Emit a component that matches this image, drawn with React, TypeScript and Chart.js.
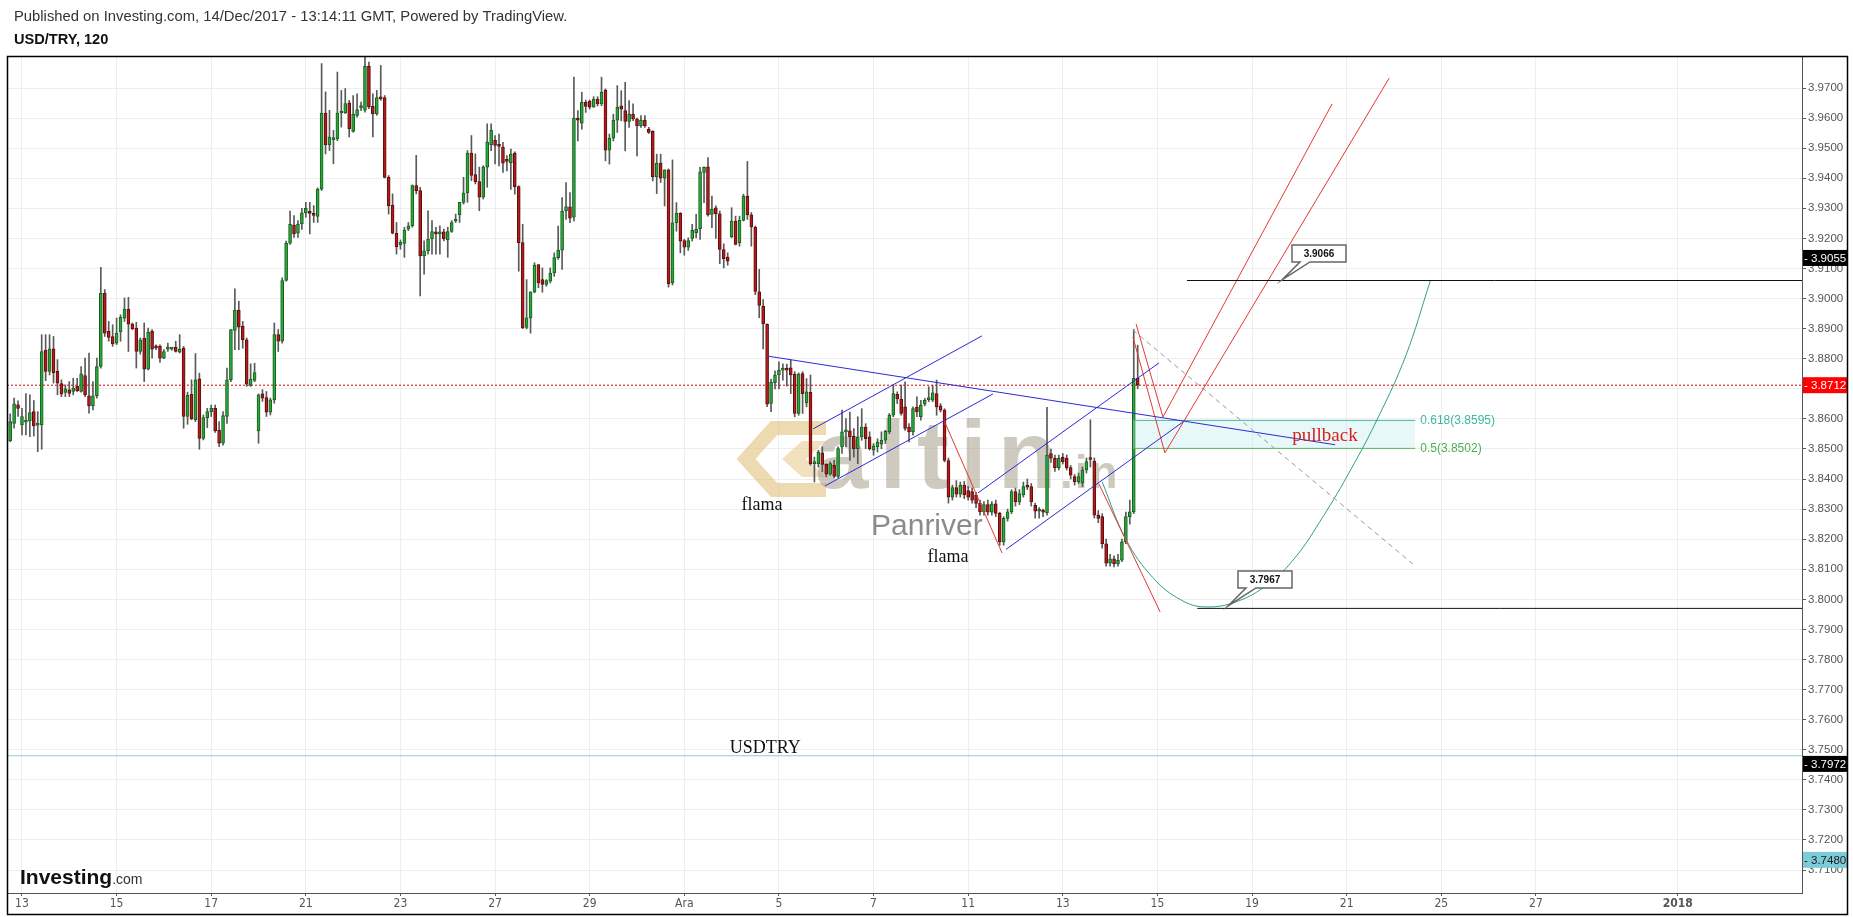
import React, { useEffect, useRef } from 'react';
import { Chart, registerables } from 'chart.js';

Chart.register(...registerables);

// ---------- data (2-hour candles, x = bar index, 0 = first bar of 13 Nov) ----------
const firstCandleX = -3;

const openP = [
  3.8527,3.8585,3.8647,3.8580,3.8589,3.8593,3.8624,3.8579,3.8580,3.8828,3.8758,3.8833,
  3.8758,3.8717,3.8688,3.8697,3.8691,3.8708,3.8691,3.8744,3.8677,3.8643,3.8677,3.8774,
  3.9017,3.8891,3.8874,3.8852,3.8889,3.8935,3.8965,3.8915,3.8902,3.8824,3.8869,3.8765,
  3.8891,3.8838,3.8841,3.8802,3.8832,3.8832,3.8838,3.8822,3.8835,3.8608,3.8682,3.8597,
  3.8733,3.8535,3.8604,3.8624,3.8635,3.8563,3.8519,3.8608,3.8730,3.8894,3.8961,3.8908,
  3.8863,3.8711,3.8728,3.8560,3.8683,3.8671,3.8622,3.8663,3.8880,3.8858,3.9060,3.9184,
  3.9244,3.9217,3.9248,3.9285,3.9285,3.9283,3.9273,3.9364,3.9617,3.9511,3.9528,3.9531,
  3.9617,3.9617,3.9651,3.9556,3.9609,3.9635,3.9626,3.9772,3.9639,3.9614,3.9668,3.9668,
  3.9403,3.9311,3.9217,3.9178,3.9183,3.9231,3.9242,3.9376,3.9359,3.9142,3.9159,3.9198,
  3.9222,3.9215,3.9222,3.9195,3.9223,3.9257,3.9279,3.9320,3.9351,3.9484,3.9412,3.9389,
  3.9337,3.9437,3.9512,3.9526,3.9511,3.9504,3.9460,3.9452,3.9484,3.9372,3.9186,3.8904,
  3.8936,3.9022,3.9113,3.9063,3.9047,3.9058,3.9085,3.9136,3.9161,3.9291,3.9305,3.9271,
  3.9600,3.9583,3.9652,3.9656,3.9636,3.9663,3.9647,3.9693,3.9493,3.9533,3.9593,3.9641,
  3.9625,3.9589,3.9613,3.9597,3.9574,3.9593,3.9563,3.9556,3.9404,3.9450,3.9400,3.9428,
  3.9052,3.9252,3.9283,3.9193,3.9171,3.9200,3.9219,3.9232,3.9419,3.9438,3.9280,3.9302,
  3.9282,3.9163,3.9138,3.9206,3.9258,3.9186,3.9260,3.9341,3.9278,3.9238,3.9022,3.8974,
  3.8914,3.8651,3.8720,3.8746,3.8762,3.8768,3.8770,3.8749,3.8618,3.8751,3.8653,3.8688,
  3.8451,3.8451,3.8487,3.8449,3.8416,3.8446,3.8409,3.8507,3.8557,3.8560,3.8542,3.8501,
  3.8540,3.8573,3.8540,3.8496,3.8507,3.8516,3.8529,3.8557,3.8612,3.8682,3.8666,3.8640,
  3.8573,3.8557,3.8638,3.8607,3.8649,3.8664,3.8662,3.8684,3.8643,3.8629,3.8461,3.8340,
  3.8372,3.8350,3.8380,3.8362,3.8358,3.8347,3.8319,3.8291,3.8315,3.8290,3.8318,3.8286,
  3.8191,3.8269,3.8291,3.8358,3.8324,3.8347,3.8377,3.8375,3.8313,3.8293,3.8296,3.8288,
  3.8485,3.8469,3.8438,3.8472,3.8469,3.8438,3.8408,3.8391,3.8386,3.8430,3.8470,3.8460,
  3.8280,3.8275,3.8185,3.8120,3.8135,3.8118,3.8130,3.8191,3.8275,3.8291,3.8735,
];

const highP = [
  3.8617,3.8669,3.8660,3.8635,3.8684,3.8680,3.8661,3.8624,3.8880,3.8880,3.8880,3.8874,
  3.8797,3.8730,3.8713,3.8724,3.8735,3.8735,3.8774,3.8802,3.8819,3.8724,3.8802,3.9104,
  3.9030,3.8924,3.8913,3.8935,3.8946,3.9002,3.9004,3.8919,3.8921,3.8869,3.8919,3.8902,
  3.8897,3.8846,3.8846,3.8830,3.8852,3.8835,3.8858,3.8880,3.8841,3.8689,3.8730,3.8817,
  3.8752,3.8613,3.8635,3.8646,3.8646,3.8591,3.8624,3.8769,3.8897,3.9032,3.8991,3.8924,
  3.8869,3.8783,3.8785,3.8683,3.8697,3.8691,3.8669,3.8919,3.8897,3.9069,3.9191,3.9291,
  3.9276,3.9259,3.9300,3.9320,3.9320,3.9309,3.9368,3.9781,3.9687,3.9626,3.9559,3.9753,
  3.9692,3.9698,3.9659,3.9675,3.9681,3.9653,3.9803,3.9786,3.9681,3.9692,3.9775,3.9675,
  3.9409,3.9348,3.9253,3.9195,3.9237,3.9253,3.9378,3.9476,3.9370,3.9192,3.9292,3.9259,
  3.9237,3.9242,3.9231,3.9237,3.9259,3.9281,3.9320,3.9403,3.9492,3.9542,3.9481,3.9437,
  3.9442,3.9581,3.9581,3.9542,3.9547,3.9519,3.9475,3.9497,3.9488,3.9375,3.9247,3.9063,
  3.9022,3.9119,3.9113,3.9102,3.9063,3.9102,3.9152,3.9241,3.9336,3.9386,3.9352,3.9736,
  3.9625,3.9686,3.9660,3.9660,3.9671,3.9671,3.9736,3.9697,3.9547,3.9613,3.9708,3.9691,
  3.9719,3.9658,3.9647,3.9600,3.9608,3.9608,3.9569,3.9558,3.9480,3.9480,3.9428,3.9431,
  3.9461,3.9319,3.9286,3.9197,3.9202,3.9247,3.9280,3.9436,3.9438,3.9469,3.9341,3.9308,
  3.9291,3.9182,3.9152,3.9302,3.9274,3.9274,3.9347,3.9456,3.9286,3.9241,3.9097,3.8997,
  3.8916,3.8732,3.8760,3.8790,3.8783,3.8782,3.8796,3.8757,3.8753,3.8757,3.8734,3.8746,
  3.8473,3.8496,3.8507,3.8451,3.8457,3.8462,3.8507,3.8629,3.8601,3.8623,3.8568,3.8607,
  3.8634,3.8584,3.8557,3.8518,3.8534,3.8557,3.8562,3.8618,3.8712,3.8690,3.8712,3.8723,
  3.8584,3.8640,3.8673,3.8662,3.8668,3.8707,3.8712,3.8729,3.8651,3.8634,3.8470,3.8380,
  3.8395,3.8390,3.8392,3.8375,3.8370,3.8356,3.8330,3.8325,3.8330,3.8325,3.8330,3.8290,
  3.8275,3.8300,3.8365,3.8370,3.8365,3.8390,3.8400,3.8385,3.8320,3.8305,3.8300,3.8638,
  3.8500,3.8480,3.8480,3.8485,3.8480,3.8445,3.8415,3.8420,3.8440,3.8470,3.8597,3.8470,
  3.8295,3.8285,3.8200,3.8150,3.8145,3.8150,3.8200,3.8290,3.8330,3.8897,3.8845,
];

const lowP = [
  3.8524,3.8569,3.8608,3.8547,3.8547,3.8541,3.8543,3.8491,3.8499,3.8727,3.8746,3.8719,
  3.8680,3.8674,3.8674,3.8674,3.8680,3.8691,3.8689,3.8674,3.8619,3.8630,3.8669,3.8769,
  3.8874,3.8858,3.8841,3.8847,3.8858,3.8924,3.8824,3.8897,3.8769,3.8815,3.8724,3.8763,
  3.8802,3.8830,3.8788,3.8800,3.8824,3.8828,3.8822,3.8819,3.8569,3.8582,3.8597,3.8591,
  3.8499,3.8530,3.8571,3.8608,3.8555,3.8508,3.8513,3.8585,3.8724,3.8830,3.8830,3.8835,
  3.8708,3.8708,3.8724,3.8519,3.8658,3.8608,3.8613,3.8652,3.8824,3.8852,3.9058,3.9180,
  3.9203,3.9203,3.9230,3.9270,3.9215,3.9253,3.9253,3.9359,3.9481,3.9492,3.9448,3.9525,
  3.9570,3.9615,3.9537,3.9553,3.9603,3.9625,3.9620,3.9631,3.9537,3.9609,3.9659,3.9401,
  3.9281,3.9215,3.9148,3.9164,3.9137,3.9226,3.9237,3.9348,3.9009,3.9081,3.9148,3.9148,
  3.9148,3.9148,3.9192,3.9137,3.9220,3.9253,3.9253,3.9314,3.9320,3.9392,3.9381,3.9292,
  3.9331,3.9370,3.9492,3.9448,3.9441,3.9419,3.9424,3.9363,3.9347,3.9091,3.8900,3.8899,
  3.8885,3.9019,3.9036,3.9021,3.9041,3.9052,3.9074,3.9130,3.9097,3.9263,3.9252,3.9258,
  3.9524,3.9563,3.9619,3.9630,3.9636,3.9640,3.9641,3.9458,3.9447,3.9524,3.9552,3.9591,
  3.9491,3.9569,3.9591,3.9474,3.9569,3.9569,3.9549,3.9391,3.9349,3.9386,3.9308,3.9038,
  3.9045,3.9224,3.9152,3.9144,3.9160,3.9191,3.9202,3.9197,3.9319,3.9274,3.9236,3.9200,
  3.9116,3.9102,3.9111,3.9202,3.9178,3.9174,3.9258,3.9263,3.9174,3.9013,3.8936,3.8833,
  3.8641,3.8624,3.8700,3.8700,3.8729,3.8709,3.8684,3.8607,3.8612,3.8618,3.8640,3.8446,
  3.8390,3.8440,3.8424,3.8407,3.8412,3.8404,3.8404,3.8485,3.8507,3.8462,3.8473,3.8451,
  3.8529,3.8501,3.8496,3.8479,3.8490,3.8501,3.8518,3.8551,3.8607,3.8651,3.8612,3.8562,
  3.8523,3.8546,3.8607,3.8596,3.8643,3.8657,3.8657,3.8612,3.8623,3.8457,3.8320,3.8330,
  3.8340,3.8340,3.8335,3.8330,3.8320,3.8305,3.8280,3.8280,3.8280,3.8280,3.8275,3.8180,
  3.8180,3.8260,3.8285,3.8310,3.8315,3.8340,3.8365,3.8310,3.8270,3.8270,3.8275,3.8280,
  3.8455,3.8425,3.8430,3.8450,3.8430,3.8400,3.8380,3.8385,3.8375,3.8420,3.8440,3.8270,
  3.8255,3.8170,3.8110,3.8110,3.8108,3.8110,3.8125,3.8185,3.8250,3.8285,3.8700,
];

const closeP = [
  3.8591,3.8650,3.8635,3.8608,3.8592,3.8621,3.8577,3.8582,3.8824,3.8758,3.8833,3.8754,
  3.8719,3.8682,3.8700,3.8685,3.8702,3.8693,3.8750,3.8680,3.8643,3.8677,3.8774,3.9017,
  3.8885,3.8871,3.8849,3.8885,3.8938,3.8965,3.8915,3.8899,3.8824,3.8863,3.8765,3.8888,
  3.8832,3.8836,3.8802,3.8824,3.8833,3.8833,3.8824,3.8832,3.8608,3.8678,3.8600,3.8730,
  3.8535,3.8604,3.8624,3.8635,3.8560,3.8519,3.8611,3.8730,3.8897,3.8961,3.8905,3.8863,
  3.8715,3.8732,3.8754,3.8680,3.8669,3.8622,3.8663,3.8880,3.8858,3.9060,3.9184,3.9247,
  3.9215,3.9248,3.9285,3.9300,3.9283,3.9276,3.9364,3.9617,3.9511,3.9537,3.9535,3.9617,
  3.9619,3.9648,3.9565,3.9613,3.9628,3.9637,3.9772,3.9637,3.9614,3.9668,3.9664,3.9403,
  3.9309,3.9217,3.9172,3.9187,3.9228,3.9242,3.9376,3.9359,3.9142,3.9159,3.9198,3.9223,
  3.9215,3.9220,3.9198,3.9223,3.9253,3.9259,3.9320,3.9351,3.9484,3.9409,3.9389,3.9337,
  3.9437,3.9520,3.9559,3.9509,3.9506,3.9450,3.9456,3.9480,3.9372,3.9186,3.8902,3.8936,
  3.9022,3.9111,3.9052,3.9047,3.9060,3.9085,3.9136,3.9161,3.9291,3.9306,3.9267,3.9600,
  3.9593,3.9652,3.9639,3.9636,3.9663,3.9647,3.9686,3.9493,3.9533,3.9593,3.9636,3.9630,
  3.9589,3.9613,3.9597,3.9574,3.9593,3.9574,3.9552,3.9404,3.9450,3.9400,3.9428,3.9049,
  3.9252,3.9283,3.9191,3.9171,3.9193,3.9227,3.9230,3.9421,3.9436,3.9278,3.9297,3.9282,
  3.9163,3.9133,3.9124,3.9258,3.9180,3.9260,3.9341,3.9278,3.9238,3.9024,3.8977,3.8916,
  3.8649,3.8722,3.8746,3.8762,3.8765,3.8762,3.8746,3.8618,3.8749,3.8684,3.8690,3.8451,
  3.8452,3.8490,3.8449,3.8416,3.8451,3.8409,3.8501,3.8557,3.8560,3.8540,3.8501,3.8540,
  3.8573,3.8534,3.8501,3.8510,3.8523,3.8529,3.8559,3.8612,3.8684,3.8666,3.8618,3.8568,
  3.8557,3.8634,3.8623,3.8646,3.8662,3.8666,3.8687,3.8640,3.8629,3.8462,3.8340,3.8372,
  3.8350,3.8380,3.8347,3.8340,3.8330,3.8319,3.8291,3.8315,3.8290,3.8318,3.8286,3.8191,
  3.8269,3.8291,3.8358,3.8324,3.8352,3.8375,3.8373,3.8324,3.8293,3.8295,3.8290,3.8480,
  3.8469,3.8438,3.8469,3.8458,3.8438,3.8413,3.8391,3.8408,3.8430,3.8458,3.8465,3.8280,
  3.8269,3.8185,3.8120,3.8135,3.8118,3.8130,3.8191,3.8275,3.8291,3.8735,3.8712,
];

// ---------- axes ----------
const xTickPositions = [0, 24, 48, 72, 96, 120, 144, 168, 192, 216, 240, 264, 288, 312, 336, 360, 384, 420];
const xTickLabels = ['13', '15', '17', '21', '23', '27', '29', 'Ara', '5', '7', '11', '13', '15', '19', '21', '25', '27', '2018'];
const yTickValues = [3.71, 3.72, 3.73, 3.74, 3.75, 3.76, 3.77, 3.78, 3.79, 3.80, 3.81, 3.82, 3.83, 3.84,
  3.85, 3.86, 3.87, 3.88, 3.89, 3.90, 3.91, 3.92, 3.93, 3.94, 3.95, 3.96, 3.97];
const xRange = [-3.8, 451.5];
const yRange = [3.70238, 3.98064];

// ---------- drawings (bar index, price) ----------
const lastPriceLine = [[-3.8, 3.8712], [451.5, 3.8712]];
const usdtryLine = [[-3.8, 3.748], [451.5, 3.748]];
const upperTargetLine = [[295.5, 3.906], [451.5, 3.906]];
const lowerTargetLine = [[298.1, 3.797], [451.5, 3.797]];
const resistanceLine = [[189.0, 3.8809], [333.1, 3.8514]];
const channel1Upper = [[200.7, 3.8567], [243.5, 3.8876]];
const channel1Lower = [[203.7, 3.8377], [246.3, 3.8683]];
const channel2Upper = [[242.5, 3.8354], [288.4, 3.8786]];
const channel2Lower = [[249.6, 3.8166], [294.5, 3.8590]];
const redDrop1 = [[233.9, 3.8594], [248.6, 3.8154]];
const redDrop2 = [[273.2, 3.8383], [288.7, 3.7958]];
const redPathA = [[282.6, 3.8915], [289.4, 3.8606], [332.3, 3.9647]];
const redPathB = [[281.8, 3.8872], [289.9, 3.8487], [346.8, 3.9733]];
const grayProjection = [[281.8, 3.8895], [353.4, 3.8111]];
const targetCurve = [[274.0, 3.8390], [280.0, 3.8200], [287.0, 3.8070], [294.0, 3.7998], [300.0, 3.7975],
  [308.0, 3.7992], [316.0, 3.8050], [323.0, 3.8140], [330.0, 3.8275], [337.0, 3.8430], [344.0, 3.8605],
  [351.0, 3.8810], [357.2, 3.9058]];
const fibRange = [281.8, 353.4];
const fibLevels = [3.8595, 3.8502];
const fibLabels = ['0.618(3.8595)', '0.5(3.8502)'];
const fibColors = ['#3fb8a2', '#4caf50'];

const noteTexts = ['flama', 'flama', 'USDTRY', 'pullback'];
const notePositions = [[187.7, 3.8314], [234.9, 3.8141], [188.5, 3.7506], [330.5, 3.8543]];
const noteColors = ['#111', '#111', '#111', '#d61f1f'];

const calloutTexts = ['3.9066', '3.7967'];
const calloutTips = [[319.6, 3.9062], [305.9, 3.7978]];

const axisTagTexts = ['3.9055', '3.8712', '3.7972', '3.7480'];
const axisTagValues = [3.9135, 3.8712, 3.7453, 3.7134];
const axisTagFills = ['#000000', '#ff0000', '#000000', '#7ccbd8'];
const axisTagInk = ['#ffffff', '#ffffff', '#ffffff', '#1a1a1a'];

const titleText = 'Published on Investing.com, 14/Dec/2017 - 13:14:11 GMT, Powered by TradingView.';
const symbolText = 'USD/TRY, 120';

const SANS = '"Liberation Sans", Arial, sans-serif';
const SERIF = '"Liberation Serif", "Times New Roman", serif';

function lineDs(points: number[][], color: string, extra: any = {}) {
  return {
    type: 'line',
    data: points.map(([x, y]) => ({ x, y })),
    borderColor: color,
    backgroundColor: color,
    borderWidth: 1,
    pointRadius: 0,
    pointHoverRadius: 0,
    fill: false,
    tension: 0,
    order: 0,
    ...extra,
  };
}

const decor = {
  id: 'decor',
  beforeDraw(chart: any) {
    const { ctx, width, height } = chart;
    ctx.save();
    ctx.fillStyle = '#ffffff';
    ctx.fillRect(0, 0, width, height);
    ctx.textAlign = 'left';
    ctx.textBaseline = 'middle';
    ctx.fillStyle = '#333';
    ctx.font = `14.8px ${SANS}`;
    ctx.fillText(titleText, 14, 17);
    ctx.fillStyle = '#111';
    ctx.font = `bold 14.6px ${SANS}`;
    ctx.fillText(symbolText, 14, 40);
    ctx.restore();
  },
  beforeDatasetsDraw(chart: any) {
    const { ctx, chartArea } = chart;
    ctx.save();
    ctx.beginPath();
    ctx.rect(chartArea.left, chartArea.top, chartArea.right - chartArea.left, chartArea.bottom - chartArea.top);
    ctx.clip();
    // logo icon
    ctx.strokeStyle = 'rgba(224,188,112,0.55)';
    ctx.lineWidth = 14;
    ctx.lineJoin = 'miter';
    ctx.beginPath();
    ctx.moveTo(826, 428);
    ctx.lineTo(774, 428);
    ctx.lineTo(746, 459);
    ctx.lineTo(774, 490);
    ctx.lineTo(826, 490);
    ctx.stroke();
    ctx.fillStyle = 'rgba(224,188,112,0.45)';
    ctx.beginPath();
    ctx.moveTo(782, 459);
    ctx.lineTo(802, 441);
    ctx.lineTo(826, 441);
    ctx.lineTo(806, 459);
    ctx.lineTo(826, 477);
    ctx.lineTo(802, 477);
    ctx.closePath();
    ctx.fill();
    // altin.in
    ctx.fillStyle = 'rgba(168,158,138,0.55)';
    ctx.font = `bold 96px ${SANS}`;
    ctx.textBaseline = 'alphabetic';
    ctx.textAlign = 'left';
    (ctx as any).letterSpacing = '11px';
    ctx.fillText('altin', 815, 488);
    (ctx as any).letterSpacing = '2px';
    ctx.font = `bold 46px ${SANS}`;
    ctx.fillText('.in', 1060, 488);
    (ctx as any).letterSpacing = '0px';
    ctx.fillStyle = 'rgba(110,110,110,0.8)';
    ctx.font = `30px ${SANS}`;
    ctx.textBaseline = 'middle';
    ctx.fillText('Panriver', 871, 527);
    ctx.restore();
  },
  afterDraw(chart: any) {
    const { ctx, chartArea, scales, width, height } = chart;
    const xs = scales.x;
    const ys = scales.y;
    ctx.save();
    // notes
    ctx.textAlign = 'center';
    ctx.textBaseline = 'middle';
    noteTexts.forEach((t, i) => {
      ctx.fillStyle = noteColors[i];
      ctx.font = t === 'pullback' ? `19px ${SERIF}` : `18px ${SERIF}`;
      ctx.fillText(t, xs.getPixelForValue(notePositions[i][0]), ys.getPixelForValue(notePositions[i][1]));
    });
    // fib labels
    ctx.textAlign = 'left';
    ctx.font = `12px ${SANS}`;
    fibLabels.forEach((t, i) => {
      ctx.fillStyle = fibColors[i];
      ctx.fillText(t, xs.getPixelForValue(fibRange[1]) + 5, ys.getPixelForValue(fibLevels[i]));
    });
    // callouts
    calloutTexts.forEach((t, i) => {
      const tx = xs.getPixelForValue(calloutTips[i][0]);
      const ty = ys.getPixelForValue(calloutTips[i][1]);
      const bx = tx + 10;
      const by = ty - 35;
      const bw = 54;
      const bh = 17;
      ctx.strokeStyle = '#666';
      ctx.fillStyle = '#ffffff';
      ctx.lineWidth = 1.5;
      ctx.beginPath();
      ctx.moveTo(bx, by);
      ctx.lineTo(bx + bw, by);
      ctx.lineTo(bx + bw, by + bh);
      ctx.lineTo(bx + 18, by + bh);
      ctx.lineTo(tx, ty);
      ctx.lineTo(bx + 8, by + bh);
      ctx.lineTo(bx, by + bh);
      ctx.closePath();
      ctx.fill();
      ctx.stroke();
      ctx.fillStyle = '#111';
      ctx.font = `bold 10px ${SANS}`;
      ctx.textAlign = 'center';
      ctx.fillText(t, bx + bw / 2, by + bh / 2 + 0.5);
    });
    // axis tags
    ctx.textAlign = 'left';
    ctx.font = `11.5px ${SANS}`;
    axisTagTexts.forEach((t, i) => {
      const y = ys.getPixelForValue(axisTagValues[i]);
      ctx.fillStyle = axisTagFills[i];
      ctx.fillRect(chartArea.right + 1, y - 8, width - 6 - chartArea.right - 1, 16);
      ctx.fillStyle = axisTagInk[i];
      ctx.fillText('- ' + t, chartArea.right + 2, y + 0.5);
    });
    // investing.com logo
    ctx.textBaseline = 'alphabetic';
    ctx.fillStyle = '#111';
    ctx.font = `bold 21px ${SANS}`;
    ctx.fillText('Investing', 20, 884);
    const w = ctx.measureText('Investing').width;
    ctx.fillStyle = '#333';
    ctx.font = `14px ${SANS}`;
    ctx.fillText('.com', 20 + w, 884);
    // frame
    ctx.strokeStyle = '#000';
    ctx.lineWidth = 1.5;
    ctx.strokeRect(chartArea.left + 0.5, chartArea.top + 0.5, width - 6 - chartArea.left, height - 3 - chartArea.top);
    ctx.restore();
  },
};

export default function App() {
  const ref = useRef<HTMLCanvasElement | null>(null);
  useEffect(() => {
    if (!ref.current) return;
    Chart.defaults.font.family = SANS;
    const isUp = (i: number) => closeP[i] >= openP[i];
    const chart = new Chart(ref.current, {
      type: 'bar',
      data: {
        datasets: [
          lineDs(lastPriceLine, '#e00000', { borderDash: [2, 2], order: 6 }),
          lineDs(usdtryLine, '#8ecbd6', { order: 6 }),
          lineDs([[fibRange[0], fibLevels[0]], [fibRange[1], fibLevels[0]]], fibColors[0], {
            fill: { value: fibLevels[1] }, backgroundColor: 'rgba(190,236,236,0.35)', order: 1,
          }),
          lineDs([[fibRange[0], fibLevels[1]], [fibRange[1], fibLevels[1]]], fibColors[1], { order: 1 }),
          lineDs(upperTargetLine, '#111'),
          lineDs(lowerTargetLine, '#111'),
          lineDs(resistanceLine, '#2b2bd6'),
          lineDs(channel1Upper, '#2b2bd6'),
          lineDs(channel1Lower, '#2b2bd6'),
          lineDs(channel2Upper, '#2b2bd6'),
          lineDs(channel2Lower, '#2b2bd6'),
          lineDs(redDrop1, '#e53935'),
          lineDs(redDrop2, '#e53935'),
          lineDs(redPathA, '#e53935'),
          lineDs(redPathB, '#e53935'),
          lineDs(grayProjection, '#9a9a9a', { borderDash: [5, 4] }),
          lineDs(targetCurve, '#2f9e8f', { tension: 0.4 }),
          {
            type: 'bar',
            data: openP.map((o, i) => ({ x: firstCandleX + i, y: [o, closeP[i]] })),
            backgroundColor: (c: any) => (isUp(c.dataIndex) ? '#2aa83a' : '#b31b1b'),
            borderColor: (c: any) => (isUp(c.dataIndex) ? '#165e1e' : '#5e0c0c'),
            borderWidth: 1,
            borderSkipped: false,
            barThickness: 3,
            minBarLength: 2,
            grouped: false,
            order: 3,
          },
          {
            type: 'bar',
            data: lowP.map((l, i) => ({ x: firstCandleX + i, y: [l, highP[i]] })),
            backgroundColor: '#5a5a5a',
            borderWidth: 0,
            barThickness: 1,
            grouped: false,
            order: 4,
          },
        ] as any,
      },
      options: {
        responsive: false,
        devicePixelRatio: 1,
        animation: false,
        layout: { padding: { left: 7, top: 56, right: 6, bottom: 3 } },
        plugins: { legend: { display: false }, tooltip: { enabled: false } },
        events: [],
        scales: {
          x: {
            type: 'linear',
            min: xRange[0],
            max: xRange[1],
            offset: false,
            afterBuildTicks: (s: any) => { s.ticks = xTickPositions.map((v) => ({ value: v })); },
            afterFit: (s: any) => { s.height = 21; },
            grid: { color: '#eeeeee', offset: false, tickLength: 3, tickColor: '#555', drawTicks: true },
            border: { display: true, color: '#555' },
            ticks: {
              autoSkip: false,
              maxRotation: 0,
              padding: 1,
              color: '#555',
              font: (c: any) => ({
                family: '"Liberation Sans Narrow", "DejaVu Sans Condensed", "Liberation Sans", sans-serif',
                size: 12,
                weight: c.index === xTickLabels.length - 1 ? 'bold' : 'normal',
              }),
              callback: (_v: any, i: number) => xTickLabels[i],
            },
          },
          y: {
            type: 'linear',
            position: 'right',
            min: yRange[0],
            max: yRange[1],
            afterBuildTicks: (s: any) => { s.ticks = yTickValues.map((v) => ({ value: v })); },
            afterFit: (s: any) => { s.width = 45; },
            grid: { color: '#eeeeee', tickLength: 4, tickColor: '#555', drawTicks: true },
            border: { display: true, color: '#555' },
            ticks: {
              padding: 2,
              color: '#555',
              font: { size: 11.5, family: SANS },
              callback: (v: any) => Number(v).toFixed(4),
            },
          },
        },
      } as any,
      plugins: [decor as any],
    });
    return () => chart.destroy();
  }, []);
  return (
    <div>
      <canvas
        ref={ref}
        width={1853}
        height={917}
        style={{ position: 'absolute', left: 0, top: 0, width: 1853, height: 917 }}
      />
    </div>
  );
}
